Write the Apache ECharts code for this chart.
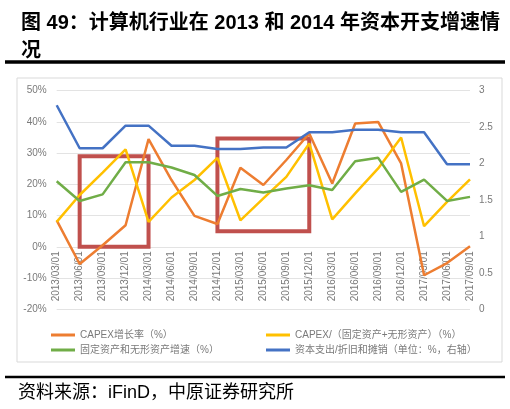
<!DOCTYPE html>
<html>
<head>
<meta charset="utf-8">
<script src="https://cdn.jsdelivr.net/npm/echarts@6/dist/echarts.min.js"></script>
<style>
html,body{margin:0;padding:0;background:#fff;}
#chart{width:510px;height:409px;}
</style>
</head>
<body>
<div id="chart"></div>
<script>
const categories = ['2013/03/01','2013/06/01','2013/09/01','2013/12/01','2014/03/01','2014/06/01','2014/09/01','2014/12/01','2015/03/01','2015/06/01','2015/09/01','2015/12/01','2016/03/01','2016/06/01','2016/09/01','2016/12/01','2017/03/01','2017/06/01','2017/09/01'];
const capexGrowth = [8.5,-5.5,0.5,6.9,34.5,21.4,9.9,7.3,25.3,19.8,27.8,36.3,20.3,39.5,40.0,26.7,-9.1,-5.2,0.2];
const capexRatio = [8.0,16.6,23.8,31.2,8.0,15.8,21.4,28.5,8.5,15.5,22.4,33.1,8.8,17.1,25.1,35.0,6.6,14.4,21.6];
const assetGrowth = [21.0,14.7,16.8,27.1,27.1,25.4,23.0,16.3,18.5,17.4,18.7,19.7,18.2,27.4,28.5,17.6,21.5,14.7,16.0];
const capexToDA = [2.80,2.21,2.21,2.52,2.52,2.245,2.245,2.20,2.20,2.22,2.22,2.43,2.43,2.465,2.465,2.43,2.43,1.99,1.99];
const seriesNames = ['CAPEX增长率（%）','CAPEX/（固定资产+无形资产）（%）','固定资产和无形资产增速（%）','资本支出/折旧和摊销（单位：%，右轴）'];
const highlightBoxes = [
  [{xAxis:'2013/06/01', yAxis:0}, {xAxis:'2014/03/01', yAxis:29}],
  [{xAxis:'2014/12/01', yAxis:5}, {xAxis:'2015/12/01', yAxis:34.7}]
];

const colors = ['#ED7D31','#FFC000','#70AD47','#4472C4'];
const labelColor = '#7a7a7a';
const fontFam = '"Liberation Sans", "Noto Sans CJK SC", sans-serif';

const chart = echarts.init(document.getElementById('chart'), null, {renderer:'canvas'});
const lineStyleW = 2.5;
const option = {
  backgroundColor:'#fff',
  animation:false,
  title:{
    text:'图 49：计算机行业在 2013 和 2014 年资本开支增速情\n况',
    left:16, top:4,
    textStyle:{fontSize:20, fontWeight:'bold', color:'#000', lineHeight:28, fontFamily:fontFam}
  },
  graphic:[
    {type:'line', shape:{x1:5,y1:62,x2:505,y2:62}, style:{stroke:'#000', lineWidth:3.5}, z:10},
    {type:'rect', shape:{x:17,y:78,width:485,height:284}, style:{fill:null, stroke:'#d9d9d9', lineWidth:1}, z:-1},
    {type:'line', shape:{x1:5,y1:377,x2:505,y2:377}, style:{stroke:'#000', lineWidth:2.5}, z:10},
    {type:'text', left:18, top:384, style:{text:'资料来源：iFinD，中原证券研究所', fontSize:18, fill:'#000', fontFamily:fontFam}}
  ],
  legend:[
    {left:46, top:324, orient:'vertical', itemWidth:24, itemHeight:3, itemGap:3, icon:'rect',
     data:[seriesNames[0], seriesNames[2]],
     textStyle:{fontSize:10, color:labelColor, lineHeight:12, fontFamily:fontFam}},
    {left:261, top:324, orient:'vertical', itemWidth:24, itemHeight:3, itemGap:3, icon:'rect',
     data:[seriesNames[1], seriesNames[3]],
     textStyle:{fontSize:10, color:labelColor, lineHeight:12, fontFamily:fontFam}}
  ],
  grid:{left:56.7, right:40, top:90.7, bottom:99.7, containLabel:false},
  xAxis:{
    type:'category', data:categories, boundaryGap:false,
    axisLine:{show:false, onZero:false},
    axisTick:{show:false},
    axisLabel:{rotate:90, fontSize:10, color:labelColor, margin:-58, interval:0, fontFamily:fontFam},
    splitLine:{show:false}
  },
  yAxis:[
    {type:'value', min:-20, max:50, interval:10,
     axisLine:{show:false}, axisTick:{show:false},
     axisLabel:{formatter:'{value}%', fontSize:10, color:labelColor, margin:10, fontFamily:fontFam},
     splitLine:{lineStyle:{color:'#e3e3e3', width:1}}},
    {type:'value', min:0, max:3, interval:0.5,
     axisLine:{show:false}, axisTick:{show:false},
     axisLabel:{fontSize:10, color:labelColor, margin:9, fontFamily:fontFam},
     splitLine:{show:false}}
  ],
  series:[
    {name:seriesNames[0], type:'line', yAxisIndex:0, data:capexGrowth, symbol:'none', color:colors[0], lineStyle:{width:lineStyleW}},
    {name:seriesNames[1], type:'line', yAxisIndex:0, data:capexRatio, symbol:'none', color:colors[1], lineStyle:{width:lineStyleW}},
    {name:seriesNames[2], type:'line', yAxisIndex:0, data:assetGrowth, symbol:'none', color:colors[2], lineStyle:{width:lineStyleW}},
    {name:seriesNames[3], type:'line', yAxisIndex:1, data:capexToDA, symbol:'none', color:colors[3], lineStyle:{width:lineStyleW}},
    {name:'highlight', type:'line', yAxisIndex:0, data:[], z:20, silent:true,
     markArea:{silent:true, label:{show:false},
       itemStyle:{color:'rgba(0,0,0,0)', borderColor:'#C0504D', borderWidth:4},
       data:highlightBoxes}}
  ]
};
chart.setOption(option);
</script>
</body>
</html>
